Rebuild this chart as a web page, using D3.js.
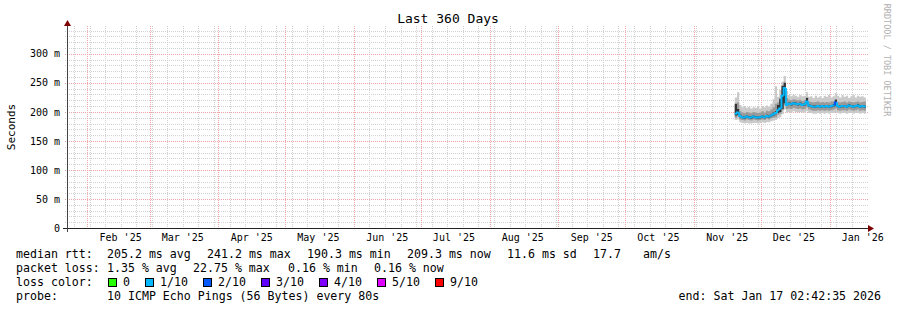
<!DOCTYPE html>
<html>
<head>
<meta charset="utf-8">
<script src="https://cdn.jsdelivr.net/npm/d3@7"></script>
<style>
body { margin: 0; background: #fff; }
text { font-family: "DejaVu Sans Mono", monospace; fill: #000; }
</style>
</head>
<body>
<svg id="chart" width="897" height="310"></svg>
<script>
// ---- data (ms), one value per day starting Nov 19 2025 ----
var firstDay = Date.UTC(2025, 10, 19, 9);
var median = [197, 199, 193, 191, 190.3, 192, 191, 190.5, 192, 191, 190.5, 191, 192, 191, 193, 192, 194, 196, 198, 203,
    206, 228, 241.2, 212, 214, 213, 215, 214, 213, 214, 212, 213, 218, 211, 210, 209, 209, 210, 209, 210,
    209, 210, 209, 210, 211, 216, 210, 209, 210, 210, 209, 211, 210, 209, 210, 211, 209, 210, 209.3];
var outerHi = [225, 234, 212, 208, 210, 207, 209, 206, 208, 207, 209, 206, 210, 208, 211, 209, 214, 222, 244, 226,
    238, 252, 262, 236, 229, 227, 230, 228, 226, 229, 227, 228, 234, 226, 227, 224, 228, 225, 227, 224,
    228, 226, 229, 225, 227, 232, 228, 225, 229, 226, 228, 224, 227, 229, 225, 228, 226, 227, 225];
var midHi = [212, 216, 201, 199, 198, 200, 199, 198, 200, 199, 198, 199, 201, 199, 202, 201, 204, 208, 214, 216,
    224, 240, 252, 224, 221, 220, 222, 221, 220, 221, 219, 220, 225, 218, 217, 216, 217, 218, 216, 217,
    216, 217, 216, 218, 218, 222, 217, 216, 217, 218, 216, 218, 217, 216, 217, 218, 216, 217, 218];
var darkHi = [214, 205, 195, 193, 192, 194, 193, 192, 194, 193, 192, 193, 194, 193, 195, 194, 196, 199, 201, 212,
    222, 245, 250, 214, 216, 215, 217, 216, 215, 216, 214, 215, 224, 213, 212, 211, 211, 212, 211, 212,
    211, 212, 211, 212, 213, 221, 212, 211, 212, 212, 211, 213, 212, 211, 212, 213, 211, 212, 211];
var darkLo = [194, 195, 191, 189, 188, 190, 189, 188, 190, 189, 188, 189, 190, 189, 191, 190, 192, 194, 196, 198,
    200, 205, 215, 210, 212, 211, 213, 212, 211, 212, 210, 211, 213, 209, 208, 207, 207, 208, 207, 208,
    207, 208, 207, 208, 209, 211, 208, 207, 208, 208, 207, 209, 208, 207, 208, 209, 207, 208, 207];
var midLo = [190, 192, 187, 186, 185, 187, 186, 185, 187, 186, 185, 186, 187, 186, 188, 187, 189, 190, 191, 195,
    197, 203, 212, 205, 206, 205, 207, 206, 205, 206, 204, 205, 208, 204, 203, 202, 202, 203, 202, 203,
    202, 203, 202, 203, 204, 206, 203, 202, 203, 203, 202, 204, 203, 202, 203, 204, 202, 203, 202];
var outerLo = [186, 187, 182, 181, 180, 181, 180, 180, 181, 181, 180, 181, 182, 181, 182, 182, 184, 185, 186, 189,
    191, 196, 204, 199, 200, 199, 201, 200, 199, 200, 199, 199, 201, 198, 198, 197, 197, 198, 197, 198,
    197, 198, 197, 198, 198, 200, 198, 197, 198, 198, 197, 198, 198, 197, 198, 198, 197, 198, 197];
// loss class per day (index into lossColors)
var loss = [1, 1, 1, 1, 1, 1, 1, 1, 1, 1, 1, 1, 1, 1, 1, 1, 1, 1, 1, 1,
    1, 1, 1, 1, 1, 1, 1, 1, 1, 1, 1, 1, 1, 1, 1, 1, 1, 1, 1, 1,
    1, 1, 1, 1, 1, 2, 1, 1, 1, 1, 1, 1, 1, 1, 1, 1, 1, 1, 1];

var lossLabels = ['0', '1/10', '2/10', '3/10', '4/10', '5/10', '9/10'];
var lossColors = ['#26ff00', '#00b8ff', '#0059ff', '#5e00ff', '#7e00ff', '#dd00ff', '#ff0000'];
var lossBoxX = [108, 145, 203, 261, 319, 377, 435];

var yTicks = [0, 50, 100, 150, 200, 250, 300];

var rttLine = [['median rtt:', 16], ['205.2 ms avg', 107], ['241.2 ms max', 207], ['190.3 ms min', 307],
    ['209.3 ms now', 407], ['11.6 ms sd', 507], ['17.7', 593], ['am/s', 643]];
var lossLine = [['packet loss:', 16], ['1.35 % avg', 107], ['22.75 % max', 193], ['0.16 % min', 288], ['0.16 % now', 374]];

var svg = d3.select('#chart');

var xScale = d3.scaleUtc()
    .domain([Date.UTC(2025, 0, 22, 21), Date.UTC(2026, 0, 17, 21)])
    .range([67, 867]);
var yScale = d3.scaleLinear()
    .domain([0, 348])
    .range([228, 26]);

var DAY = 86400000;
var points = median.map(function(m, i) {
    return {t: firstDay + i * DAY, med: m, oHi: outerHi[i], mHi: midHi[i], dHi: darkHi[i],
        dLo: darkLo[i], mLo: midLo[i], oLo: outerLo[i], loss: loss[i]};
});
// extra point so the last step has width
var last = points[points.length - 1];
var stepPts = points.concat([Object.assign({}, last, {t: last.t + DAY})]);

// ---- grid ----
var grid = svg.append('g');
var minorY = d3.range(10, 348, 10).filter(function(v) { return v % 50 != 0; });
grid.selectAll('.hminor').data(minorY).enter().append('line')
    .attr('x1', 65).attr('x2', 869)
    .attr('y1', function(d) { return Math.round(yScale(d)) + 0.5; })
    .attr('y2', function(d) { return Math.round(yScale(d)) + 0.5; })
    .attr('stroke', '#d2d2d2').attr('stroke-dasharray', '1,1');

var weeks = d3.utcSunday.range(xScale.domain()[0], xScale.domain()[1]);
grid.selectAll('.vminor').data(weeks).enter().append('line')
    .attr('x1', function(d) { return Math.round(xScale(d)) + 0.5; })
    .attr('x2', function(d) { return Math.round(xScale(d)) + 0.5; })
    .attr('y1', 26).attr('y2', 230)
    .attr('stroke', '#d2d2d2').attr('stroke-dasharray', '1,1');

var months = d3.utcMonth.range(xScale.domain()[0], xScale.domain()[1]);
grid.selectAll('.vmajor').data(months).enter().append('line')
    .attr('x1', function(d) { return Math.round(xScale(d)) + 0.5; })
    .attr('x2', function(d) { return Math.round(xScale(d)) + 0.5; })
    .attr('y1', 26).attr('y2', 230)
    .attr('stroke', '#f0a6a6').attr('stroke-dasharray', '1,1');

grid.selectAll('.hmajor').data(yTicks.slice(1)).enter().append('line')
    .attr('x1', 65).attr('x2', 869)
    .attr('y1', function(d) { return Math.round(yScale(d)) + 0.5; })
    .attr('y2', function(d) { return Math.round(yScale(d)) + 0.5; })
    .attr('stroke', '#f0a6a6').attr('stroke-dasharray', '1,1');

// ---- smoke ----
function band(lo, hi) {
    return d3.area()
        .x(function(d) { return xScale(d.t); })
        .y0(function(d) { return yScale(d[lo]); })
        .y1(function(d) { return yScale(d[hi]); })
        .curve(d3.curveStepAfter);
}
svg.append('path').datum(stepPts).attr('d', band('oLo', 'oHi')).attr('fill', '#cacaca');
svg.append('path').datum(stepPts).attr('d', band('mLo', 'mHi')).attr('fill', '#9a9a9a');
svg.append('path').datum(stepPts).attr('d', band('dLo', 'dHi')).attr('fill', '#343434');

// ---- median line coloured by loss ----
var medG = svg.append('g');
medG.selectAll('path').data(points).enter().append('path')
    .attr('d', function(d, i) {
        var x0 = xScale(d.t), x1 = xScale(d.t + DAY), y = yScale(d.med);
        var s = 'M' + x0 + ',' + (i > 0 ? yScale(points[i - 1].med) : y) + 'L' + x0 + ',' + y;
        return s + 'L' + x1 + ',' + y;
    })
    .attr('fill', 'none')
    .attr('stroke', function(d) { return lossColors[d.loss]; })
    .attr('stroke-width', 2);

// ---- axes ----
svg.append('line').attr('x1', 63).attr('x2', 869).attr('y1', 228.5).attr('y2', 228.5)
    .attr('stroke', '#222');
svg.append('line').attr('x1', 67.5).attr('x2', 67.5).attr('y1', 232).attr('y2', 24)
    .attr('stroke', '#444');
svg.append('path').attr('d', 'M64,26L67.5,20L71,26Z').attr('fill', '#7f0000');
svg.append('path').attr('d', 'M868,225L874,228.5L868,232Z').attr('fill', '#7f0000');

svg.selectAll('.ylab').data(yTicks).enter().append('text')
    .attr('x', 60).attr('y', function(d) { return yScale(d); })
    .attr('dy', '0.36em')
    .attr('text-anchor', 'end')
    .style('font-size', '10px')
    .text(function(d) { return d == 0 ? '0' : d + ' m'; });

var fmt = d3.utcFormat("%b '%y");
var labelMonths = months.concat([d3.utcMonth.floor(xScale.domain()[0])]).filter(function(m) {
    var c = m.getTime() + 15 * DAY;
    return c > xScale.domain()[0] && c < xScale.domain()[1];
});
svg.selectAll('.xlab').data(labelMonths).enter().append('text')
    .attr('x', function(d) { return xScale(d.getTime() + 15 * DAY); })
    .attr('y', 241)
    .attr('text-anchor', 'middle')
    .style('font-size', '10px')
    .text(function(d) { return fmt(d); });

svg.append('text')
    .attr('transform', 'translate(14.5,127) rotate(-90)')
    .attr('text-anchor', 'middle')
    .style('font-size', '11px')
    .text('Seconds');

svg.append('text')
    .attr('x', 448).attr('y', 23)
    .attr('text-anchor', 'middle')
    .style('font-size', '13px')
    .text('Last 360 Days');

svg.append('text')
    .attr('transform', 'translate(884,60) rotate(90)')
    .attr('text-anchor', 'middle')
    .style('font-size', '8.5px')
    .style('fill', '#b0b0b0')
    .text('RRDTOOL / TOBI OETIKER');

// ---- legend ----
var legendSize = '11.6px';
function legendRow(items, y) {
    svg.append('g').selectAll('text').data(items).enter().append('text')
        .attr('x', function(d) { return d[1]; })
        .attr('y', y)
        .style('font-size', legendSize)
        .text(function(d) { return d[0]; });
}
legendRow(rttLine, 258);
legendRow(lossLine, 272);
legendRow([['loss color:', 16]], 286);
legendRow([['probe:', 16], ['10 ICMP Echo Pings (56 Bytes) every 80s', 107]], 300);

var lg = svg.append('g');
lg.selectAll('rect').data(lossColors).enter().append('rect')
    .attr('x', function(d, i) { return lossBoxX[i] + 0.5; })
    .attr('y', 278.5)
    .attr('width', 8).attr('height', 8)
    .attr('fill', function(d) { return d; })
    .attr('stroke', '#000');
lg.selectAll('text').data(lossLabels).enter().append('text')
    .attr('x', function(d, i) { return lossBoxX[i] + 15; })
    .attr('y', 286)
    .style('font-size', legendSize)
    .text(function(d) { return d; });

svg.append('text')
    .attr('x', 881).attr('y', 300)
    .attr('text-anchor', 'end')
    .style('font-size', legendSize)
    .text('end: Sat Jan 17 02:42:35 2026');
</script>
</body>
</html>
